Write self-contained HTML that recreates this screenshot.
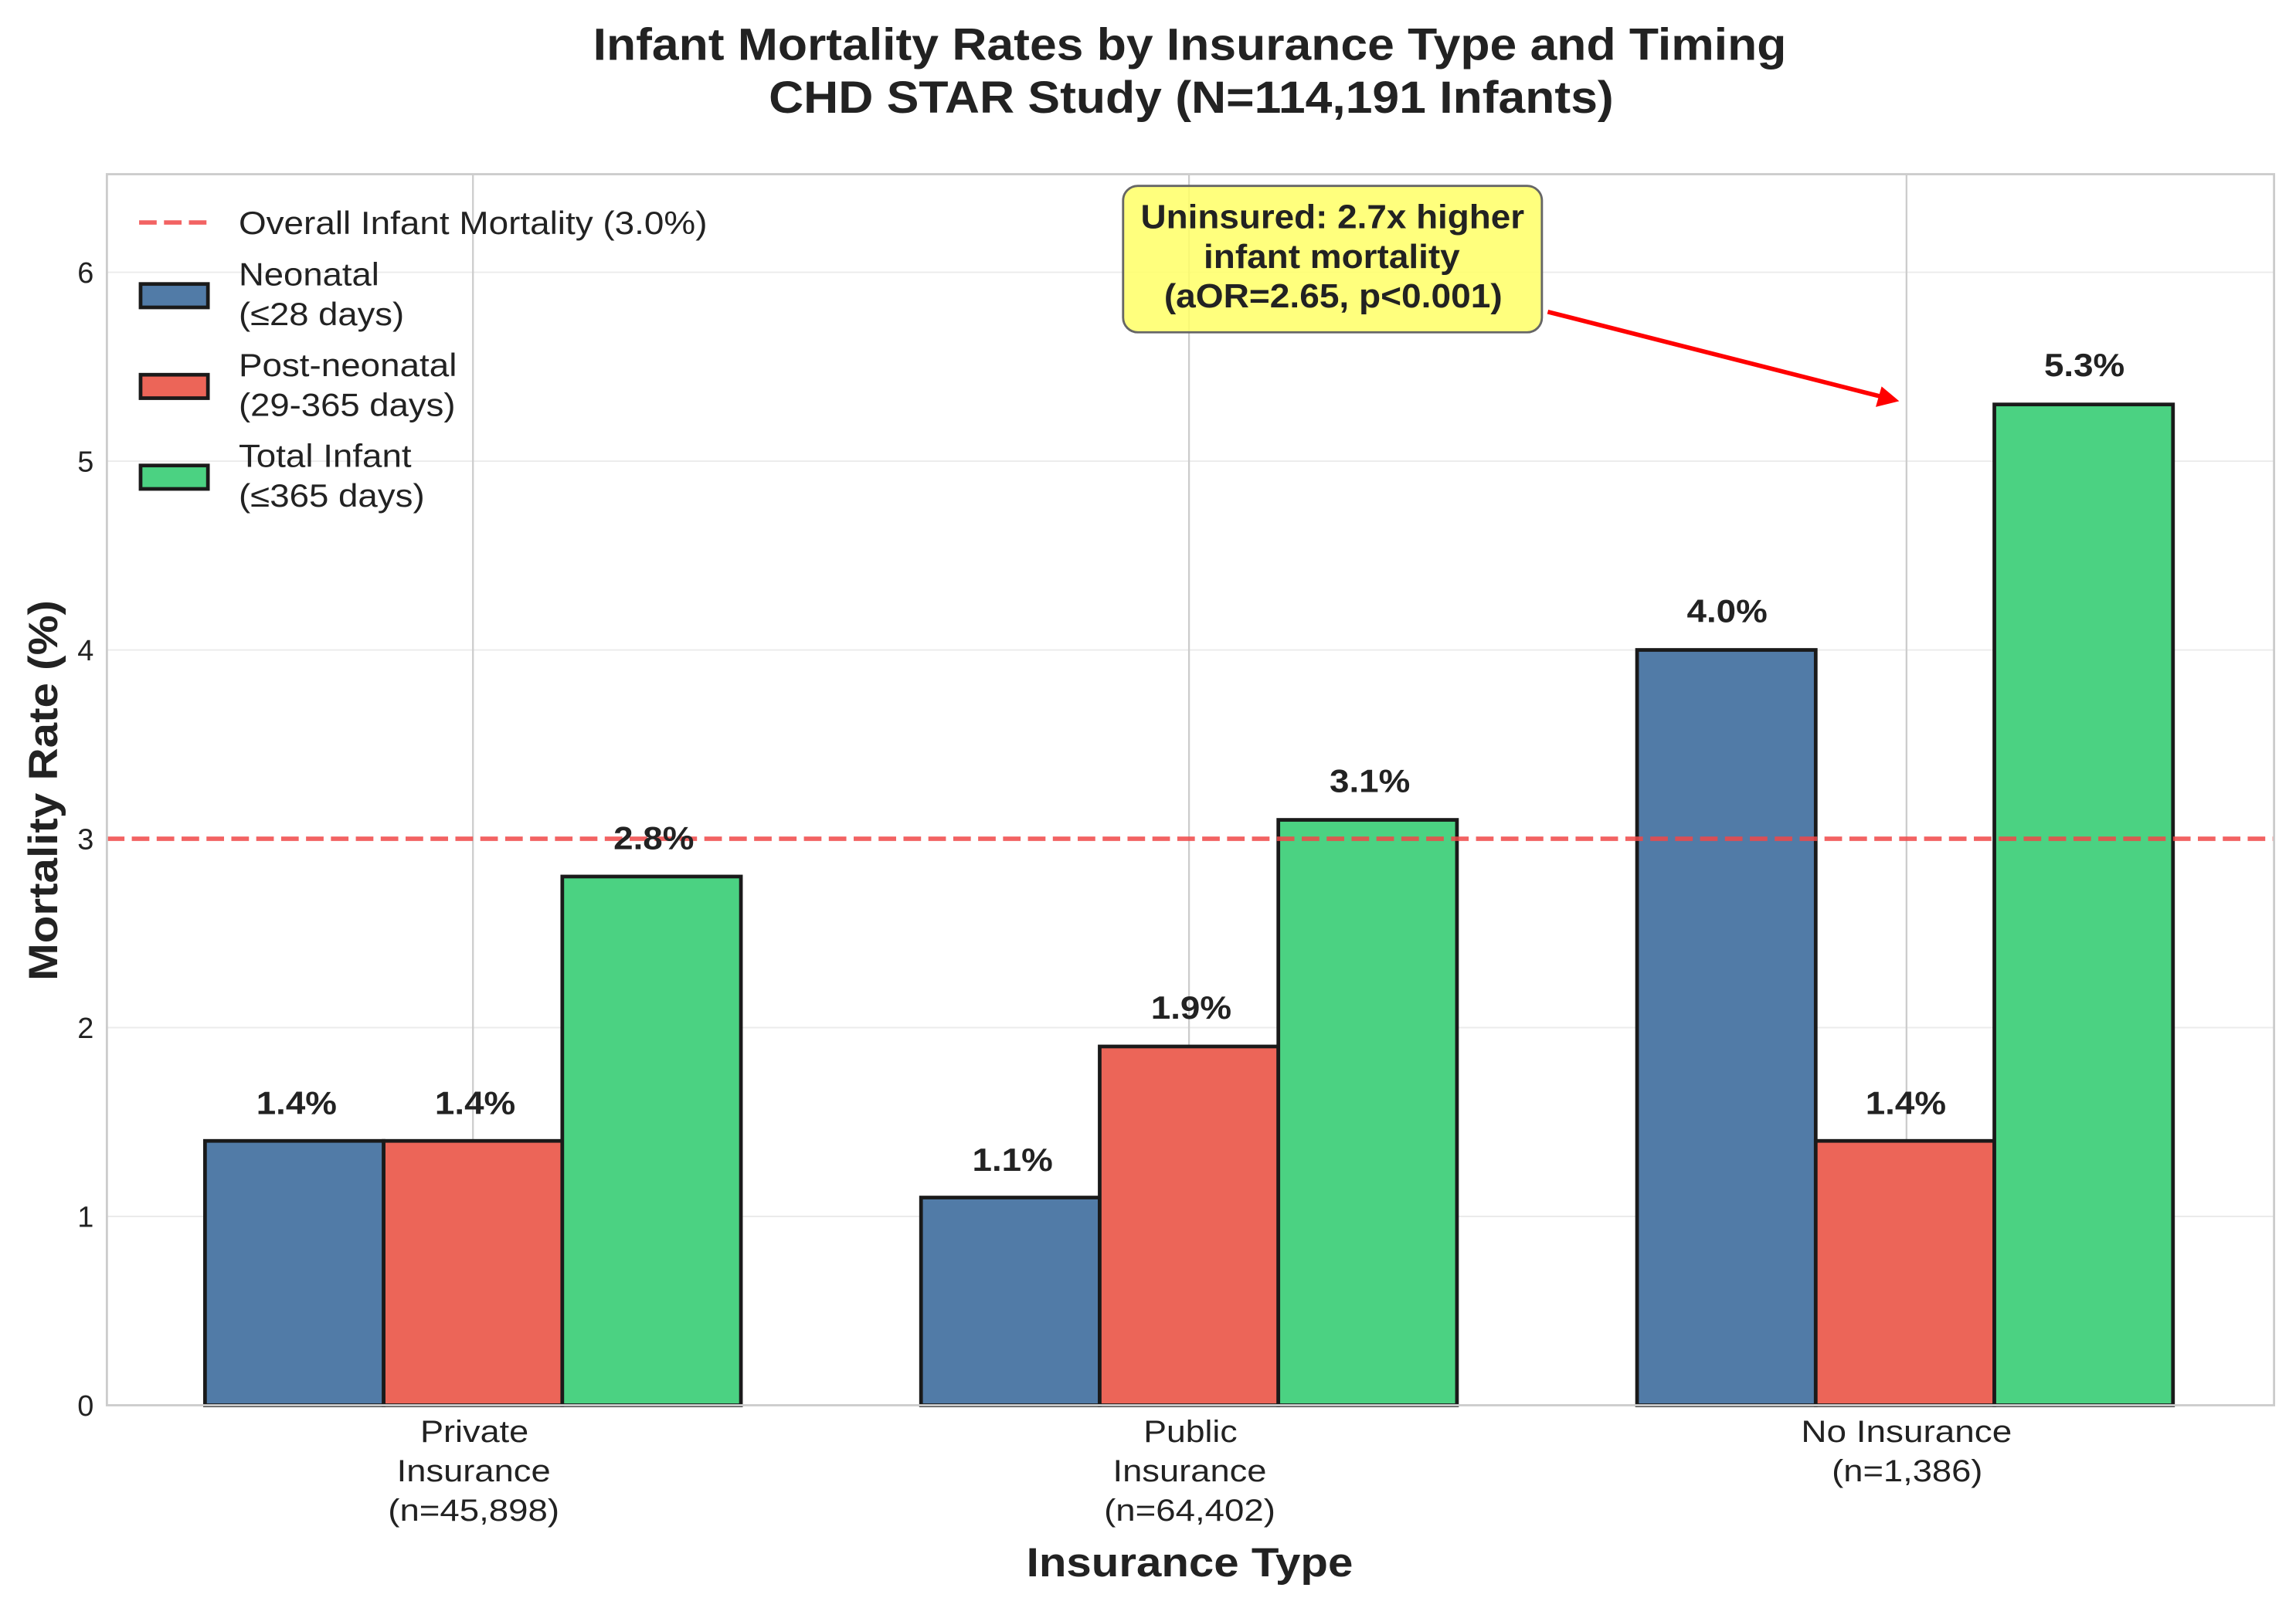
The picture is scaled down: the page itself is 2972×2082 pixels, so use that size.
<!DOCTYPE html>
<html><head><style>html,body{margin:0;padding:0;background:#fff}svg{display:block}</style></head>
<body>
<svg width="2972" height="2082" viewBox="0 0 1568 1098.5" preserveAspectRatio="none" xmlns="http://www.w3.org/2000/svg" font-family="Liberation Sans, DejaVu Sans, sans-serif">
<rect width="1568" height="1098.5" fill="#fff"/>
<g stroke="#ebebeb" stroke-width="1">
<line x1="73" x2="1553" y1="831" y2="831"/><line x1="73" x2="1553" y1="702" y2="702"/>
<line x1="73" x2="1553" y1="444" y2="444"/><line x1="73" x2="1553" y1="315" y2="315"/><line x1="73" x2="1553" y1="186" y2="186"/>
</g>
<g stroke="#cccccc" stroke-width="1.2">
<line x1="323" x2="323" y1="119" y2="960"/><line x1="812" x2="812" y1="119" y2="960"/><line x1="1302" x2="1302" y1="119" y2="960"/>
</g>
<g stroke="#1a1a1a" stroke-width="2.5">
<rect x="140" y="779.4" width="122" height="180.6" fill="#517ba7"/>
<rect x="262" y="779.4" width="122" height="180.6" fill="#ec6558"/>
<rect x="384" y="598.8" width="122" height="361.2" fill="#4bd282"/>
<rect x="629" y="818.1" width="122" height="141.9" fill="#517ba7"/>
<rect x="751" y="714.9" width="122" height="245.1" fill="#ec6558"/>
<rect x="873" y="560.1" width="122" height="399.9" fill="#4bd282"/>
<rect x="1118" y="444" width="122" height="516" fill="#517ba7"/>
<rect x="1240" y="779.4" width="122" height="180.6" fill="#ec6558"/>
<rect x="1362" y="276.3" width="122" height="683.7" fill="#4bd282"/>
</g>
<line x1="73" x2="1553" y1="573" y2="573" stroke="#f04848" stroke-opacity="0.85" stroke-width="3" stroke-dasharray="12,5"/>
<rect x="73" y="119" width="1480" height="841" fill="none" stroke="#cccccc" stroke-width="1.5"/>
<g font-size="22" font-weight="bold" fill="#222">
<text x="175" y="761" textLength="55" lengthAdjust="spacingAndGlyphs">1.4%</text>
<text x="297" y="761" textLength="55" lengthAdjust="spacingAndGlyphs">1.4%</text>
<text x="419" y="580" textLength="55" lengthAdjust="spacingAndGlyphs">2.8%</text>
<text x="664" y="800" textLength="55" lengthAdjust="spacingAndGlyphs">1.1%</text>
<text x="786" y="696" textLength="55" lengthAdjust="spacingAndGlyphs">1.9%</text>
<text x="908" y="541" textLength="55" lengthAdjust="spacingAndGlyphs">3.1%</text>
<text x="1152" y="425" textLength="55" lengthAdjust="spacingAndGlyphs">4.0%</text>
<text x="1274" y="761" textLength="55" lengthAdjust="spacingAndGlyphs">1.4%</text>
<text x="1396" y="257" textLength="55" lengthAdjust="spacingAndGlyphs">5.3%</text>
</g>
<g font-size="20" fill="#222" text-anchor="end">
<text x="64" y="967">0</text><text x="64" y="838">1</text><text x="64" y="709">2</text><text x="64" y="580">3</text>
<text x="64" y="451">4</text><text x="64" y="322">5</text><text x="64" y="193">6</text>
</g>
<g font-size="21" fill="#222">
<text x="287" y="985" textLength="74" lengthAdjust="spacingAndGlyphs">Private</text>
<text x="271" y="1012" textLength="105" lengthAdjust="spacingAndGlyphs">Insurance</text>
<text x="265" y="1039" textLength="117" lengthAdjust="spacingAndGlyphs">(n=45,898)</text>
<text x="781" y="985" textLength="64" lengthAdjust="spacingAndGlyphs">Public</text>
<text x="760" y="1012" textLength="105" lengthAdjust="spacingAndGlyphs">Insurance</text>
<text x="754" y="1039" textLength="117" lengthAdjust="spacingAndGlyphs">(n=64,402)</text>
<text x="1230" y="985" textLength="144" lengthAdjust="spacingAndGlyphs">No Insurance</text>
<text x="1251" y="1012" textLength="103" lengthAdjust="spacingAndGlyphs">(n=1,386)</text>
</g>
<text x="701" y="1077" font-size="28" font-weight="bold" fill="#222" textLength="223" lengthAdjust="spacingAndGlyphs">Insurance Type</text>
<text transform="translate(39,670) rotate(-90)" font-size="28" font-weight="bold" fill="#222" textLength="260" lengthAdjust="spacingAndGlyphs">Mortality Rate (%)</text>
<text x="405" y="41" font-size="31" font-weight="bold" fill="#222" textLength="815" lengthAdjust="spacingAndGlyphs">Infant Mortality Rates by Insurance Type and Timing</text>
<text x="525" y="77" font-size="31" font-weight="bold" fill="#222" textLength="577" lengthAdjust="spacingAndGlyphs">CHD STAR Study (N=114,191 Infants)</text>
<line x1="95" x2="143" y1="152" y2="152" stroke="#f04848" stroke-opacity="0.85" stroke-width="3" stroke-dasharray="12,5"/>
<g stroke="#1a1a1a" stroke-width="2.5">
<rect x="96" y="194" width="46" height="16" fill="#517ba7"/>
<rect x="96" y="256" width="46" height="16" fill="#ec6558"/>
<rect x="96" y="318" width="46" height="16" fill="#4bd282"/>
</g>
<g font-size="22" fill="#222">
<text x="163" y="160" textLength="320" lengthAdjust="spacingAndGlyphs">Overall Infant Mortality (3.0%)</text>
<text x="163" y="195" textLength="96" lengthAdjust="spacingAndGlyphs">Neonatal</text>
<text x="163" y="222" textLength="113" lengthAdjust="spacingAndGlyphs">(≤28 days)</text>
<text x="163" y="257" textLength="149" lengthAdjust="spacingAndGlyphs">Post-neonatal</text>
<text x="163" y="284" textLength="148" lengthAdjust="spacingAndGlyphs">(29-365 days)</text>
<text x="163" y="319" textLength="118" lengthAdjust="spacingAndGlyphs">Total Infant</text>
<text x="163" y="346" textLength="127" lengthAdjust="spacingAndGlyphs">(≤365 days)</text>
</g>
<line x1="1057" y1="213" x2="1285" y2="271" stroke="#ff0000" stroke-width="3"/>
<polygon points="1297,274 1281,278 1285,264" fill="#ff0000"/>
<rect x="767" y="127" width="286" height="100" rx="10" fill="#ffff66" fill-opacity="0.85" stroke="#666" stroke-width="1.5"/>
<g font-size="23" font-weight="bold" fill="#222">
<text x="779" y="156" textLength="262" lengthAdjust="spacingAndGlyphs">Uninsured: 2.7x higher</text>
<text x="822" y="183" textLength="175" lengthAdjust="spacingAndGlyphs">infant mortality</text>
<text x="795" y="210" textLength="231" lengthAdjust="spacingAndGlyphs">(aOR=2.65, p&lt;0.001)</text>
</g>
</svg>
</body></html>
